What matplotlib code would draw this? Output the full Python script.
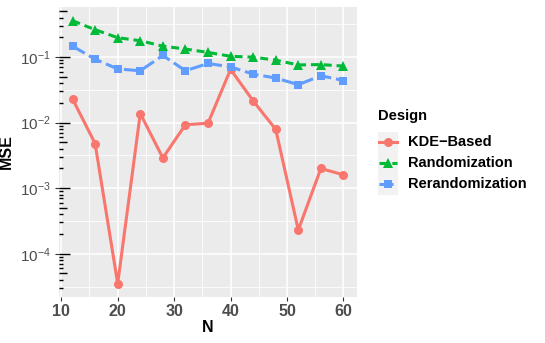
import numpy as np
import matplotlib
matplotlib.use("Agg")
import matplotlib.pyplot as plt
from matplotlib.lines import Line2D
from matplotlib.patches import Rectangle
import matplotlib.transforms as mtransforms

plt.rcParams['font.family'] = ['Liberation Sans', 'DejaVu Sans']
plt.rcParams['mathtext.fontset'] = 'custom'
plt.rcParams['mathtext.rm'] = 'Liberation Sans'
plt.rcParams['mathtext.it'] = 'Liberation Sans:italic'
plt.rcParams['mathtext.bf'] = 'Liberation Sans:bold'

# data
N = [12, 16, 20, 24, 28, 32, 36, 40, 44, 48, 52, 56, 60]
kde = [0.023, 0.0048, 0.000035, 0.0138, 0.0029, 0.0093, 0.0098, 0.065,
       0.0215, 0.0079, 0.00023, 0.0020, 0.0016]
rand = [0.36, 0.262, 0.198, 0.178, 0.147, 0.133, 0.118, 0.103,
        0.100, 0.090, 0.076, 0.077, 0.073]
rerand = [0.147, 0.093, 0.066, 0.062, 0.106, 0.062, 0.080, 0.071,
          0.055, 0.048, 0.038, 0.052, 0.044]

series = ["KDE\u2212Based", "Randomization", "Rerandomization"]
values = [kde, rand, rerand]
colors = ["#F8766D", "#00BA38", "#619CFF"]
markers = ["o", "^", "s"]
dashes = [None, (2.6, 1.6), (4.6, 1.6)]

W, H = 545, 343
fig = plt.figure(figsize=(W / 100, H / 100), dpi=100)
ax = fig.add_axes([59 / W, 1 - 297 / H, (357 - 59) / W, (297 - 7) / H])
ax.set_facecolor("#EBEBEB")
for s in ax.spines.values():
    s.set_visible(False)

ax.set_yscale("log")
ax.set_xlim(9.6, 62.4)
ax.set_ylim(10 ** -4.66, 10 ** -0.235)

# grid
for x in [10, 20, 30, 40, 50, 60]:
    ax.axvline(x, color="white", lw=1.1, zorder=0)
for x in [15, 25, 35, 45, 55]:
    ax.axvline(x, color="white", lw=0.55, zorder=0)
for e in [-4, -3, -2, -1]:
    ax.axhline(10.0 ** e, color="white", lw=1.1, zorder=0)
for e in [-4.5, -3.5, -2.5, -1.5, -0.5]:
    ax.axhline(10.0 ** e, color="white", lw=0.55, zorder=0)

for name, v, c, m, d in zip(series, values, colors, markers, dashes):
    ln, = ax.plot(N, v, color=c, lw=2.2, marker=m, ms=6.5 if m != "s" else 6,
                  markeredgewidth=0, zorder=3)
    if d is not None:
        ln.set_dashes(d)

# axis ticks
ax.set_xticks([10, 20, 30, 40, 50, 60])
ax.tick_params(axis="x", length=3, width=0.8, color="#333333", pad=2,
               labelsize=11.5, labelcolor="#4D4D4D")
for lab in ax.get_xticklabels():
    lab.set_fontweight("bold")
ax.set_yticks([1e-4, 1e-3, 1e-2, 1e-1])
ax.set_yticklabels([r"$10^{-4}$", r"$10^{-3}$", r"$10^{-2}$", r"$10^{-1}$"])
ax.yaxis.set_minor_locator(matplotlib.ticker.NullLocator())
ax.tick_params(axis="y", length=3, width=0.8, color="#333333", pad=3,
               labelsize=11, labelcolor="#4D4D4D")

# log ticks inside the panel
trans = mtransforms.blended_transform_factory(ax.transAxes, ax.transData)
pw = 357 - 59
for e in range(-5, 1):
    for k in range(1, 10):
        y = k * 10.0 ** e
        if y < 10 ** -4.66 or y > 10 ** -0.235:
            continue
        L = 11.3 if k == 1 else (7.6 if k == 5 else 3.8)
        ax.plot([0, L / pw], [y, y], color="black", lw=1.0, transform=trans,
                clip_on=False, zorder=4, solid_capstyle="butt")

ax.set_xlabel("N", fontsize=11.5, fontweight="bold", labelpad=1)
ax.set_ylabel("MSE", fontsize=11.5, fontweight="bold")
ax.yaxis.set_label_coords(-45 / pw, 0.5)

# legend
px = lambda x, y: (x / W, 1 - y / H)
fig.text(*px(378, 116), "Design", fontsize=10.5, fontweight="bold",
         va="center", ha="left")
for i, (name, c, m, d) in enumerate(zip(series, colors, markers, dashes)):
    yc = 142 + 21 * i
    x0, y0 = px(378, yc + 10.5)
    fig.add_artist(Rectangle((x0, y0), 20 / W, 21 / H, transform=fig.transFigure,
                             facecolor="#F2F2F2", edgecolor="none"))
    xa, ya = px(379, yc)
    xb, _ = px(397, yc)
    ln = Line2D([xa, xb], [ya, ya], transform=fig.transFigure, color=c, lw=2.2)
    if d is not None:
        ln.set_dashes(d)
    fig.add_artist(ln)
    fig.add_artist(Line2D([(xa + xb) / 2], [ya], transform=fig.transFigure,
                          color=c, marker=m, ms=6.5 if m != "s" else 6,
                          markeredgewidth=0, lw=0))
    fig.text(*px(408, yc), name, fontsize=10.5, fontweight="bold",
             va="center", ha="left")

fig.savefig("out.png", dpi=100)
